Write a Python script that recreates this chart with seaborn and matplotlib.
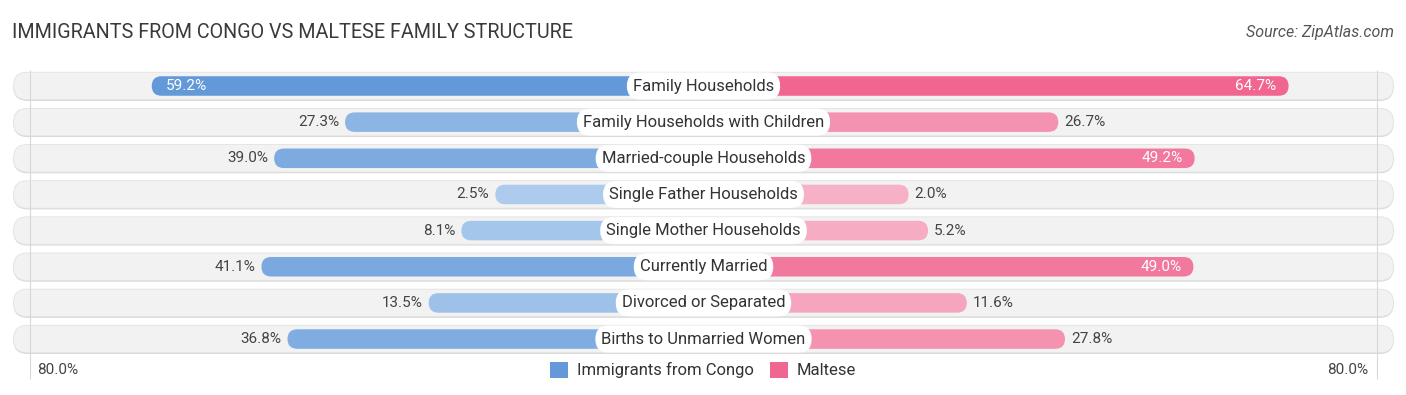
import numpy as np
import pandas as pd
import matplotlib.pyplot as plt
import seaborn as sns
from matplotlib.patches import FancyBboxPatch, Patch
from matplotlib.colors import to_rgb

# Data
categories = ["Family Households", "Family Households with Children", "Married-couple Households",
              "Single Father Households", "Single Mother Households", "Currently Married",
              "Divorced or Separated", "Births to Unmarried Women"]
congo = [59.2, 27.3, 39.0, 2.5, 8.1, 41.1, 13.5, 36.8]
maltese = [64.7, 26.7, 49.2, 2.0, 5.2, 49.0, 11.6, 27.8]
series_names = ["Immigrants from Congo", "Maltese"]
axis_max = 80.0

# Layout (pixels of the 1406x395 canvas)
W, H = 1406, 395
PX = 6.06             # pixels per percentage point
OFFSET = 193 / PX     # bars start behind the centre label
ROW = 36.15           # row spacing in px
FIRST_ROW = 86        # y of first row centre in px
CENTER = 703.5

blue_light, blue_dark = "#b0cdee", "#6399d9"
pink_light, pink_dark = "#f7b3c8", "#f06690"


def shade(light, dark, v, vmax):
    t = v / vmax
    a, b = np.array(to_rgb(light)), np.array(to_rgb(dark))
    return tuple(a + (b - a) * t)


sns.set_theme(style="white")
plt.rcParams["font.family"] = ["Roboto", "DejaVu Sans"]

fig = plt.figure(figsize=(W / 100, H / 100), dpi=100)
ax = fig.add_axes([0, 0, 1, 1])
ax.set_axis_off()

df = pd.DataFrame({"category": categories, "congo": congo, "maltese": maltese})
df["left"] = -(OFFSET + df["congo"])
df["right"] = OFFSET + df["maltese"]

left_pal = {c: shade(blue_light, blue_dark, v, max(congo)) for c, v in zip(categories, congo)}
right_pal = {c: shade(pink_light, pink_dark, v, max(maltese)) for c, v in zip(categories, maltese)}

sns.barplot(data=df, x="left", y="category", hue="category", palette=left_pal,
            orient="h", width=0.54, legend=False, ax=ax, saturation=1)
sns.barplot(data=df, x="right", y="category", hue="category", palette=right_pal,
            orient="h", width=0.54, legend=False, ax=ax, saturation=1)

# axis mapping so data units line up with canvas pixels
ax.set_xlim(-CENTER / PX, (W - CENTER) / PX)
ax.set_ylim((H - FIRST_ROW) / ROW, -FIRST_ROW / ROW)

aspect = PX / ROW
bars = list(ax.patches)
for r in bars:
    x, y, w, h = r.get_x(), r.get_y(), r.get_width(), r.get_height()
    if w < 0:
        x, w = x + w, -w
    rad = h * ROW / 2 / PX
    ax.add_patch(FancyBboxPatch((x, y), w, h,
                                boxstyle=f"round,pad=0,rounding_size={rad}",
                                mutation_aspect=aspect, fc=r.get_facecolor(),
                                ec="none", zorder=3))
    r.remove()

# background pills
half = 690 / PX
pill_h = 27.5 / ROW
for i in range(len(categories)):
    ax.add_patch(FancyBboxPatch((-half, i - pill_h / 2 + 1.2 / ROW), 2 * half, pill_h,
                                boxstyle=f"round,pad=0,rounding_size={pill_h * ROW / 2 / PX}",
                                mutation_aspect=aspect, fc="#d9d9d9", ec="none", zorder=0))
    ax.add_patch(FancyBboxPatch((-half, i - pill_h / 2), 2 * half, pill_h,
                                boxstyle=f"round,pad=0,rounding_size={pill_h * ROW / 2 / PX}",
                                mutation_aspect=aspect, fc="#f2f2f2", ec="#e2e2e2", lw=0.6,
                                zorder=1))

# faint gridlines near the axis maximum
grid_x = 673.5 / PX
for s in (-1, 1):
    ax.vlines(s * grid_x, -0.45, 8.1, color="#d8d8d8", lw=0.8, zorder=2)

# labels
for i, (cat, lv, rv) in enumerate(zip(categories, congo, maltese)):
    ax.text(0, i, cat, ha="center", va="center", fontsize=12, color="#333333", zorder=5,
            bbox=dict(boxstyle="round,pad=0.36,rounding_size=0.8", fc="white", ec="none"))
    if lv > 45:
        ax.text(-(OFFSET + lv) + 14 / PX, i, f"{lv:.1f}%", ha="left", va="center",
                fontsize=11, color="white", zorder=4)
    else:
        ax.text(-(OFFSET + lv) - 6 / PX, i, f"{lv:.1f}%", ha="right", va="center",
                fontsize=11, color="#444444", zorder=4)
    if rv > 45:
        ax.text(OFFSET + rv - 12 / PX, i, f"{rv:.1f}%", ha="right", va="center",
                fontsize=11, color="white", zorder=4)
    else:
        ax.text(OFFSET + rv + 6 / PX, i, f"{rv:.1f}%", ha="left", va="center",
                fontsize=11, color="#444444", zorder=4)

tick_y = (370 - FIRST_ROW) / ROW
ax.text(-grid_x + 7 / PX, tick_y, f"{axis_max:.1f}%", ha="left", va="center",
        fontsize=11, color="#444444")
ax.text(grid_x - 9 / PX, tick_y, f"{axis_max:.1f}%", ha="right", va="center",
        fontsize=11, color="#444444")

fig.text(12 / W, 1 - 33 / H, "IMMIGRANTS FROM CONGO VS MALTESE FAMILY STRUCTURE",
         ha="left", va="center", fontsize=14.2, color="#3a3a3a")
fig.text(1394 / W, 1 - 33 / H, "Source: ZipAtlas.com", ha="right", va="center",
         fontsize=11.5, style="italic", color="#555555")

handles = [Patch(fc=blue_dark, ec="none"), Patch(fc=pink_dark, ec="none")]
fig.legend(handles, series_names, loc="center", bbox_to_anchor=(0.5, 1 - 370 / H), ncol=2,
           frameon=False, fontsize=12, handlelength=1.1, handleheight=1.1,
           handletextpad=0.5, columnspacing=1.0, labelcolor="#333333")

fig.savefig("out.png", dpi=100)
